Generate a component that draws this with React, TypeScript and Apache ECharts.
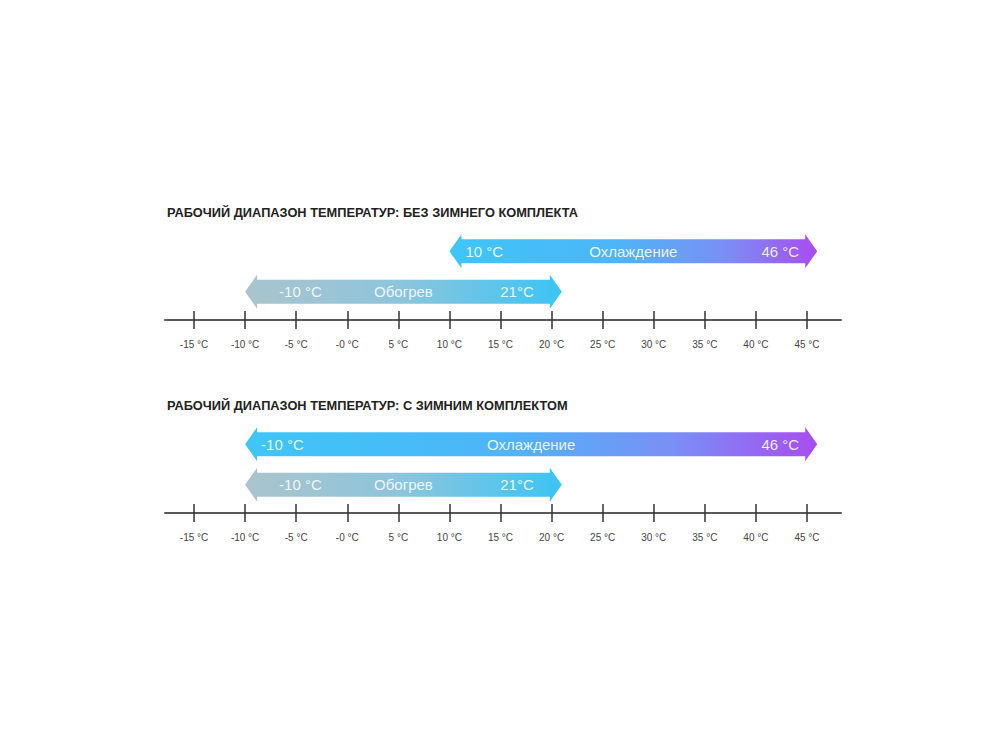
import React, { useEffect, useRef } from "react";
import * as echarts from "echarts";

const tickValues = [-15, -10, -5, 0, 5, 10, 15, 20, 25, 30, 35, 40, 45];
const tickLabels = ["-15 °C", "-10 °C", "-5 °C", "-0 °C", "5 °C", "10 °C", "15 °C", "20 °C", "25 °C", "30 °C", "35 °C", "40 °C", "45 °C"];
const panelTitles = [
  "РАБОЧИЙ ДИАПАЗОН ТЕМПЕРАТУР: БЕЗ ЗИМНЕГО КОМПЛЕКТА",
  "РАБОЧИЙ ДИАПАЗОН ТЕМПЕРАТУР: С ЗИМНИМ КОМПЛЕКТОМ",
];
const modes = ["Обогрев", "Охлаждение"];
// [start °C, end °C] per panel
const coolingRanges = [
  [10, 46],
  [-10, 46],
];
const heatingRanges = [
  [-10, 21],
  [-10, 21],
];
const coolingEndLabels = [
  ["10 °C", "46 °C"],
  ["-10 °C", "46 °C"],
];
const heatingEndLabels = [
  ["-10 °C", "21°C"],
  ["-10 °C", "21°C"],
];

const FONT = "'Liberation Sans', Arial, Helvetica, sans-serif";

function arrowRender(params: any, api: any) {
  const start = api.value(0);
  const end = api.value(1);
  const cat = api.value(2);
  const p1 = api.coord([start, cat]);
  const p2 = api.coord([end, cat]);
  const x1 = p1[0];
  const x2 = p2[0];
  const y = p1[1];
  const hb = 12;
  const hh = 17;
  const hl = 12;
  const isCool = cat === 1;
  const fill = isCool
    ? new echarts.graphic.LinearGradient(0, 0, 1, 0, [
        { offset: 0, color: "#3ec6f7" },
        { offset: 0.45, color: "#4db5f8" },
        { offset: 0.75, color: "#7a8ff5" },
        { offset: 1, color: "#a84cf0" },
      ])
    : new echarts.graphic.LinearGradient(0, 0, 1, 0, [
        { offset: 0, color: "#aac4cc" },
        { offset: 0.5, color: "#8cc5dc" },
        { offset: 1, color: "#3bc4f5" },
      ]);
  const leftInset = isCool ? 16 : 34;
  const rightInset = isCool ? 18 : 28;
  const txt = (t: string, x: number, align: string) => ({
    type: "text",
    style: {
      text: t,
      x,
      y,
      align,
      verticalAlign: "middle",
      fill: "rgba(255,255,255,0.88)",
      fontSize: 15,
      fontFamily: FONT,
    },
  });
  return {
    type: "group",
    children: [
      {
        type: "polygon",
        shape: {
          points: [
            [x1, y],
            [x1 + hl, y - hh],
            [x1 + hl, y - hb],
            [x2 - hl, y - hb],
            [x2 - hl, y - hh],
            [x2, y],
            [x2 - hl, y + hh],
            [x2 - hl, y + hb],
            [x1 + hl, y + hb],
            [x1 + hl, y + hh],
          ],
        },
        style: { fill },
      },
      txt(api.value(3), x1 + leftInset, "left"),
      txt(modes[cat], (x1 + x2) / 2, "center"),
      txt(api.value(4), x2 - rightInset, "right"),
    ],
  };
}

export default function App() {
  const ref = useRef<HTMLDivElement>(null);
  useEffect(() => {
    document.body.style.margin = "0";
    const chart = echarts.init(ref.current!, null, { renderer: "svg" });
    const gridTops = [231, 424];
    const xMin = -17.84;
    const xMax = 48.33;
    const grids = gridTops.map((t) => ({ left: 165, right: 159, top: t, height: 81 }));
    const xAxes: any[] = [];
    const yAxes: any[] = [];
    const series: any[] = [];
    gridTops.forEach((_, i) => {
      xAxes.push({
        type: "value",
        gridIndex: i,
        min: xMin,
        max: xMax,
        offset: 8,
        position: "bottom",
        splitLine: { show: false },
        axisLine: { show: true, lineStyle: { color: "#5a5a5a", width: 2 } },
        axisTick: { show: true, customValues: tickValues, length: 9, inside: false, lineStyle: { color: "#333", width: 1.5 } },
        axisLabel: {
          show: true,
          customValues: tickValues,
          margin: 19,
          fontSize: 10,
          color: "#444",
          fontFamily: FONT,
          formatter: (v: number) => tickLabels[tickValues.indexOf(v)] ?? "",
        },
      });
      xAxes.push({
        type: "value",
        gridIndex: i,
        min: xMin,
        max: xMax,
        offset: 8,
        position: "bottom",
        splitLine: { show: false },
        axisLine: { show: false },
        axisTick: { show: true, customValues: tickValues, length: 9, inside: true, lineStyle: { color: "#333", width: 1.5 } },
        axisLabel: { show: false },
      });
      yAxes.push({
        type: "category",
        gridIndex: i,
        data: modes,
        show: false,
      });
      series.push({
        type: "custom",
        xAxisIndex: i * 2,
        yAxisIndex: i,
        renderItem: arrowRender,
        encode: { x: [0, 1], y: 2 },
        data: [
          [heatingRanges[i][0], heatingRanges[i][1], 0, heatingEndLabels[i][0], heatingEndLabels[i][1]],
          [coolingRanges[i][0], coolingRanges[i][1], 1, coolingEndLabels[i][0], coolingEndLabels[i][1]],
        ],
      });
    });
    chart.setOption({
      animation: false,
      backgroundColor: "#fff",
      title: panelTitles.map((t, i) => ({
        text: t,
        left: 162,
        top: gridTops[i] - 30,
        textStyle: { fontSize: 12.8, fontWeight: "bold", color: "#222", fontFamily: FONT },
      })),
      grid: grids,
      xAxis: xAxes,
      yAxis: yAxes,
      series,
    });
    return () => chart.dispose();
  }, []);
  return <div ref={ref} style={{ width: 1000, height: 750 }} />;
}
